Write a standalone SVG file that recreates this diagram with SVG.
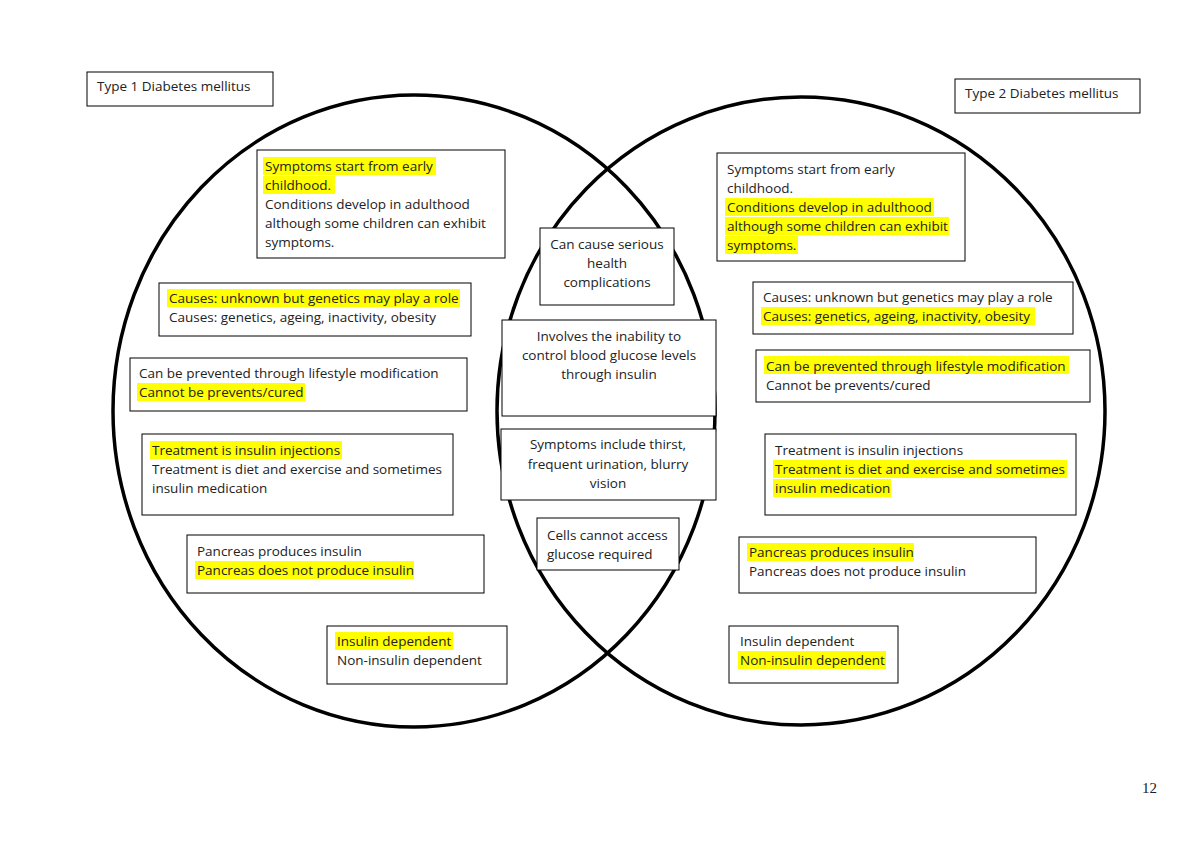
<svg xmlns="http://www.w3.org/2000/svg" width="1200" height="848" viewBox="0 0 1200 848">
<style>
.b{fill:#fff;stroke:#000;stroke-width:1}
.h{fill:#ffff00}
text{font-family:"Open Sans","Liberation Sans",sans-serif;font-size:13.5px;fill:#222}
.c{text-anchor:middle}
.v{fill:none;stroke:#000;stroke-width:3.5}
</style>
<rect width="1200" height="848" fill="#fff"/>
<g id="circles">
<ellipse class="v" cx="414" cy="411" rx="301" ry="316"/>
<ellipse class="v" cx="801" cy="411" rx="304" ry="314"/>
</g>
<g id="t1"><rect class="b" x="87" y="72" width="186" height="34"/><text x="97" y="91">Type 1 Diabetes mellitus</text></g>
<g id="t2"><rect class="b" x="955" y="79" width="185" height="34"/><text x="965" y="98">Type 2 Diabetes mellitus</text></g>
<g id="L1"><rect class="b" x="257" y="150" width="248" height="108"/>
<rect class="h" x="263" y="157" width="173" height="18"/><rect class="h" x="263" y="176" width="72" height="18"/>
<text x="265" y="171">Symptoms start from early</text><text x="265" y="190">childhood.</text><text x="265" y="209">Conditions develop in adulthood</text><text x="265" y="228">although some children can exhibit</text><text x="265" y="247">symptoms.</text></g>
<g id="L2"><rect class="b" x="159" y="283" width="312" height="53"/><rect class="h" x="167" y="289" width="293" height="18"/>
<text x="169" y="303">Causes: unknown but genetics may play a role</text><text x="169" y="322">Causes: genetics, ageing, inactivity, obesity</text></g>
<g id="L3"><rect class="b" x="130" y="358" width="337" height="53"/><rect class="h" x="137" y="383" width="168" height="18"/>
<text x="139" y="378">Can be prevented through lifestyle modification</text><text x="139" y="397">Cannot be prevents/cured</text></g>
<g id="L4"><rect class="b" x="142" y="434" width="311" height="81"/><rect class="h" x="150" y="441" width="192" height="18"/>
<text x="152" y="455">Treatment is insulin injections</text><text x="152" y="474">Treatment is diet and exercise and sometimes</text><text x="152" y="493">insulin medication</text></g>
<g id="L5"><rect class="b" x="187" y="535" width="297" height="58"/><rect class="h" x="195" y="561" width="219" height="18"/>
<text x="197" y="556">Pancreas produces insulin</text><text x="197" y="575">Pancreas does not produce insulin</text></g>
<g id="L6"><rect class="b" x="327" y="626" width="180" height="58"/><rect class="h" x="335" y="632" width="118" height="18"/>
<text x="337" y="646">Insulin dependent</text><text x="337" y="665">Non-insulin dependent</text></g>
<g id="C1"><rect class="b" x="540" y="228" width="134" height="77"/><text class="c" x="607" y="249">Can cause serious</text><text class="c" x="607" y="268">health</text><text class="c" x="607" y="287">complications</text></g>
<g id="C2"><rect class="b" x="502" y="320" width="214" height="96"/><text class="c" x="609" y="341">Involves the inability to</text><text class="c" x="609" y="360">control blood glucose levels</text><text class="c" x="609" y="379">through insulin</text></g>
<g id="C3"><rect class="b" x="501" y="429" width="215" height="71"/><text class="c" x="608" y="449">Symptoms include thirst,</text><text class="c" x="608" y="469">frequent urination, blurry</text><text class="c" x="608" y="488">vision</text></g>
<g id="C4"><rect class="b" x="537" y="518" width="142" height="52"/><text x="547" y="540">Cells cannot access</text><text x="547" y="559">glucose required</text></g>
<g id="R1"><rect class="b" x="717" y="153" width="248" height="108"/>
<rect class="h" x="725" y="198" width="209" height="18"/><rect class="h" x="725" y="217" width="224" height="18"/><rect class="h" x="725" y="236" width="73" height="18"/>
<text x="727" y="174">Symptoms start from early</text><text x="727" y="193">childhood.</text><text x="727" y="212">Conditions develop in adulthood</text><text x="727" y="231">although some children can exhibit</text><text x="727" y="250">symptoms.</text></g>
<g id="R2"><rect class="b" x="753" y="282" width="320" height="52"/><rect class="h" x="761" y="307" width="274" height="18"/>
<text x="763" y="302">Causes: unknown but genetics may play a role</text><text x="763" y="321">Causes: genetics, ageing, inactivity, obesity</text></g>
<g id="R3"><rect class="b" x="756" y="350" width="334" height="52"/><rect class="h" x="764" y="356" width="305" height="18"/>
<text x="766" y="371">Can be prevented through lifestyle modification</text><text x="766" y="390">Cannot be prevents/cured</text></g>
<g id="R4"><rect class="b" x="765" y="434" width="311" height="81"/><rect class="h" x="773" y="460" width="294" height="18"/><rect class="h" x="773" y="479" width="118" height="18"/>
<text x="775" y="455">Treatment is insulin injections</text><text x="775" y="474">Treatment is diet and exercise and sometimes</text><text x="775" y="493">insulin medication</text></g>
<g id="R5"><rect class="b" x="739" y="537" width="297" height="56"/><rect class="h" x="747" y="543" width="167" height="18"/>
<text x="749" y="557">Pancreas produces insulin</text><text x="749" y="576">Pancreas does not produce insulin</text></g>
<g id="R6"><rect class="b" x="729" y="626" width="169" height="57"/><rect class="h" x="738" y="651" width="148" height="18"/>
<text x="740" y="646">Insulin dependent</text><text x="740" y="665">Non-insulin dependent</text></g>
<g id="connectors"></g>
<text x="1142" y="793" style="font-family:'Liberation Serif',serif;font-size:15px">12</text>
</svg>
